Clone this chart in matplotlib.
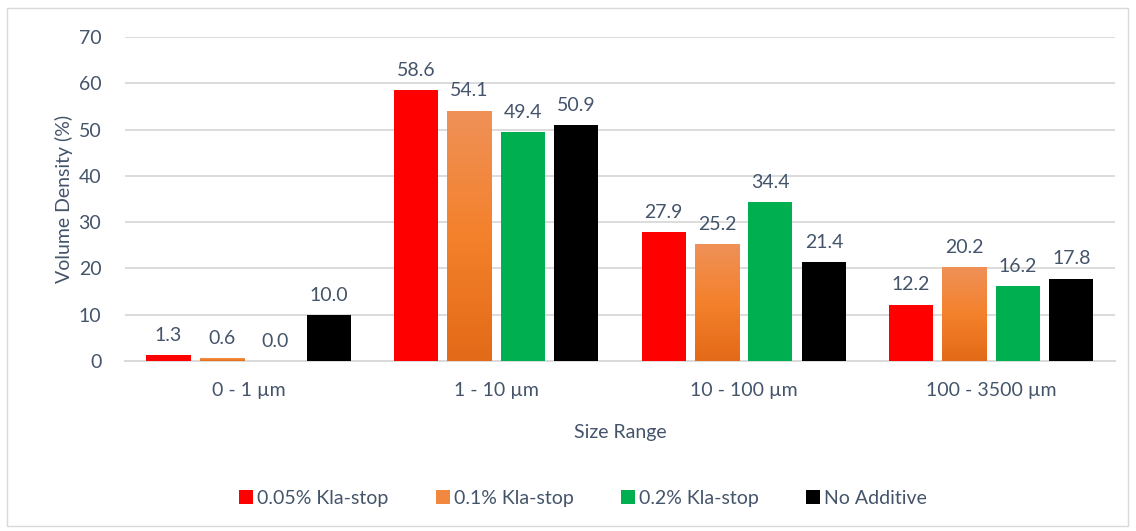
import numpy as np
import matplotlib
matplotlib.use("Agg")
import matplotlib.pyplot as plt
from matplotlib.colors import LinearSegmentedColormap
from matplotlib.patches import Rectangle

categories = ["0 - 1 µm", "1 - 10 µm", "10 - 100 µm", "100 - 3500 µm"]
series_names = ["0.05% Kla-stop", "0.1% Kla-stop", "0.2% Kla-stop", "No Additive"]
kla_005 = [1.3, 58.6, 27.9, 12.2]
kla_01 = [0.6, 54.1, 25.2, 20.2]
kla_02 = [0.0, 49.4, 34.4, 16.2]
no_additive = [10.0, 50.9, 21.4, 17.8]
y_ticks = [0, 10, 20, 30, 40, 50, 60, 70]

series = [kla_005, kla_01, kla_02, no_additive]
colors = ["#FF0000", "#F07F2A", "#00B050", "#000000"]
text_color = "#44546A"
grid_color = "#D9D9D9"

plt.rcParams["font.family"] = ["Lato", "DejaVu Sans"]
fs = 14

fig = plt.figure(figsize=(11.36, 5.31), dpi=100)
ax = fig.add_axes([0.110, 0.3202, 0.8715, 0.6101])

# light frame around the whole chart area
fig.patches.append(Rectangle((7 / 1136, 5 / 531), 1121 / 1136, 518 / 531,
                             transform=fig.transFigure, fill=False,
                             edgecolor="#D9D9D9", linewidth=1.0))

orange_cmap = LinearSegmentedColormap.from_list(
    "orange_grad", [(0.0, "#E36A18"), (0.5, "#F4812C"), (1.0, "#EF9158")])

x = np.arange(len(categories))
width = 0.178
pitch = 0.216
offsets = (np.arange(4) - 1.5) * pitch

for i, (vals, col, name) in enumerate(zip(series, colors, series_names)):
    bars = ax.bar(x + offsets[i], vals, width, color=col, label=name,
                  zorder=3, linewidth=0)
    if i == 1:
        grad = np.linspace(0, 1, 256).reshape(-1, 1)
        for b in bars:
            bx, by = b.get_x(), b.get_y()
            bw, bh = b.get_width(), b.get_height()
            if bh <= 0:
                continue
            im = ax.imshow(grad, cmap=orange_cmap, origin="lower",
                           extent=[bx, bx + bw, by, by + bh],
                           aspect="auto", zorder=3.5)
            im.set_clip_path(b)
    for xi, v in zip(x + offsets[i], vals):
        ax.annotate(f"{v:.1f}", (xi, v), xytext=(0, 8),
                    textcoords="offset points", ha="center", va="bottom",
                    fontsize=fs, color=text_color, zorder=5)

ax.set_xlim(-0.5, len(categories) - 0.5)
ax.set_ylim(0, 70)
ax.set_yticks(y_ticks)
ax.set_xticks(x)
ax.set_xticklabels(categories)
ax.tick_params(axis="both", length=0, labelsize=fs, labelcolor=text_color)
ax.tick_params(axis="y", pad=17)
ax.tick_params(axis="x", pad=15)
ax.grid(axis="y", color=grid_color, linewidth=1.3, zorder=0)
for side in ["top", "right", "left"]:
    ax.spines[side].set_visible(False)
ax.spines["bottom"].set_color(grid_color)
ax.spines["bottom"].set_linewidth(1.3)

ax.set_ylabel("Volume Density (%)", fontsize=fs, color=text_color, labelpad=4)
ax.set_xlabel("Size Range", fontsize=fs, color=text_color, labelpad=18)

# legend handles as plain squares
handles = [plt.Line2D([], [], marker="s", linestyle="", markersize=10,
                      markerfacecolor=c, markeredgewidth=0) for c in colors]
handles[1] = plt.Line2D([], [], marker="s", linestyle="", markersize=10,
                        markerfacecolor="#F08840", markeredgewidth=0)
fig.legend(handles, series_names, loc="center", bbox_to_anchor=(0.512, 0.062),
           ncol=4, frameon=False, fontsize=fs, labelcolor=text_color,
           handletextpad=0.05, columnspacing=2.3, handlelength=1.0)

fig.savefig("out.png", dpi=100)
